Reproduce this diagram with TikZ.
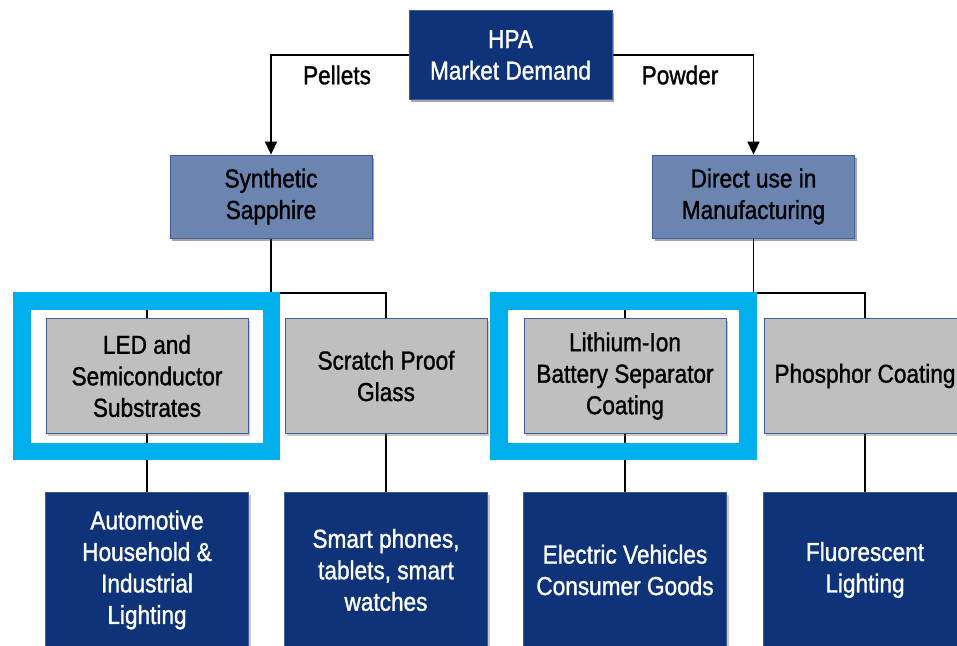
\documentclass[tikz,border=0pt]{standalone}
\usepackage{fontspec}
\setmainfont{Liberation Sans}[FakeStretch=0.87, FakeBold=1.2]
\usetikzlibrary{arrows.meta,shadows}
\definecolor{navy}{RGB}{14,51,120}
\definecolor{midblue}{RGB}{108,133,176}
\definecolor{boxgray}{RGB}{191,191,191}
\definecolor{edgeblue}{RGB}{62,92,158}
\definecolor{cyanframe}{RGB}{0,176,236}
\tikzset{
  base/.style={rectangle, draw=edgeblue, line width=0.8pt, align=center,
    font=\fontsize{26}{31.5}\selectfont, inner sep=0pt,
    drop shadow={shadow xshift=2pt, shadow yshift=-2.5pt, opacity=0.35, fill=black!60}},
  topbox/.style={base, fill=navy, text=white, minimum width=203pt, minimum height=89pt},
  midbox/.style={base, fill=midblue, text=black, minimum width=202pt, minimum height=83pt},
  graybox/.style={base, fill=boxgray, text=black, minimum width=202pt, minimum height=115pt},
  usebox/.style={base, fill=navy, text=white, draw=navy!80!white, minimum width=203pt, minimum height=156pt},
  conn/.style={draw=black, line width=1.6pt},
  arr/.style={conn, -{Triangle[length=13pt, width=12pt]}},
  hilite/.style={draw=cyanframe, line width=17.5pt},
  lbl/.style={font=\fontsize{26}{28}\selectfont, text=black}
}
\begin{document}
\begin{tikzpicture}[x=1pt, y=-1pt]
\useasboundingbox (0,0) rectangle (957,645);
\clip (0,0) rectangle (957,645);
\fill[white] (0,0) rectangle (957,645);
% coordinates
\coordinate (jl) at (271,293);
\coordinate (jr) at (753.5,293);
% top nodes (placed first for names; redrawn above connectors)
\path
  node[topbox] (hpa) at (510.5,55) {HPA\\Market Demand}
  node[midbox] (syn) at (271,196.5) {Synthetic\\Sapphire}
  node[midbox] (dir) at (753.5,196.5) {Direct use in\\Manufacturing};
% connectors
\draw[arr] (hpa.west) -| (syn.north);
\draw[arr] (hpa.east) -| (dir.north);
\node[lbl] (pel) at (337,75) {Pellets};
\node[lbl] (pow) at (680,75) {Powder};
\coordinate (ledtop) at (147,318);
\coordinate (scrtop) at (386,318);
\coordinate (lithtop) at (625,318);
\coordinate (phostop) at (865,318);
\draw[conn] (syn.south) -- (jl);
\draw[conn] (ledtop) |- (jl) -| (scrtop);
\draw[conn] (dir.south) -- (jr);
\draw[conn] (lithtop) |- (jr) -| (phostop);
\coordinate (ledbot) at (147,433);
\coordinate (scrbot) at (386,433);
\coordinate (lithbot) at (625,433);
\coordinate (phosbot) at (865,433);
\draw[conn] (ledbot) -- (147,492);
\draw[conn] (scrbot) -- (386,492);
\draw[conn] (lithbot) -- (625,492);
\draw[conn] (phosbot) -- (865,492);
% highlight frames
\draw[hilite] (22,301) rectangle (271.5,451.5);
\draw[hilite] (499,301) rectangle (748,451.5);
% level 3
\node[graybox] (led) at (147,376) {LED and\\Semiconductor\\Substrates};
\node[graybox] (scr) at (386,376) {Scratch Proof\\Glass};
\node[graybox] (lith) at (625,376) {Lithium-Ion\\Battery Separator\\Coating};
\node[graybox] (phos) at (865,376) {Phosphor Coating};
% level 4
\node[usebox] (auto) at (147,570) {Automotive\\Household \&\\Industrial\\Lighting};
\node[usebox] (smart) at (386,570) {Smart phones,\\tablets, smart\\watches};
\node[usebox] (ev) at (625,570) {Electric Vehicles\\Consumer Goods};
\node[usebox] (fluo) at (865,570) {Fluorescent\\Lighting};
% redraw top nodes above connectors
\node[topbox] at (hpa) {HPA\\Market Demand};
\node[midbox] at (syn) {Synthetic\\Sapphire};
\node[midbox] at (dir) {Direct use in\\Manufacturing};
\end{tikzpicture}
\end{document}
